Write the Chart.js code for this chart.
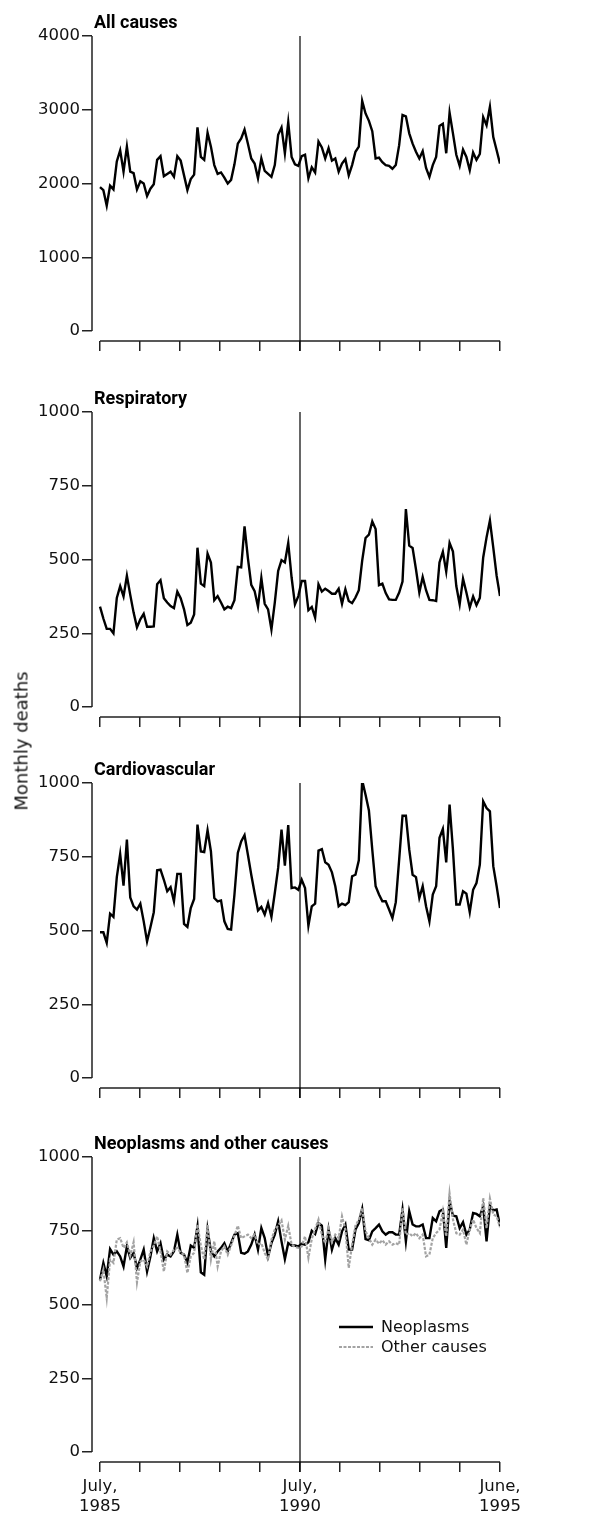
<!DOCTYPE html>
<html>
<head>
<meta charset="utf-8">
<script src="https://cdn.jsdelivr.net/npm/chart.js@4.4.1/dist/chart.umd.min.js"></script>
<style>
  body { margin: 0; background: #fff; }
  #wrap { position: relative; width: 611px; height: 1517px; overflow: hidden; }
  canvas { position: absolute; left: 0; }
  #ylab { position: absolute; left: 21px; top: 741px; transform: translate(-50%, -50%) rotate(-90deg);
          font: 18px "DejaVu Sans", sans-serif; white-space: nowrap; color: #111; }
</style>
</head>
<body>
<div id="wrap">
  <canvas id="c1" width="611" height="360" style="top:0px"></canvas>
  <canvas id="c2" width="611" height="360" style="top:376px"></canvas>
  <canvas id="c3" width="611" height="360" style="top:747px"></canvas>
  <canvas id="c4" width="611" height="396" style="top:1121px"></canvas>
  <div id="ylab">Monthly deaths</div>
</div>
<script>
// monthly deaths, July 1985 .. June 1995
const allCauses = [
  1950,1910,1700,1970,1920,2300,2450,2160,2500,2160,
  2140,1920,2030,2000,1830,1930,1990,2320,2370,2100,
  2130,2160,2090,2370,2310,2110,1910,2060,2120,2760,
  2360,2320,2690,2500,2250,2130,2150,2080,2000,2050,
  2260,2540,2610,2730,2540,2340,2270,2070,2340,2170,
  2130,2090,2250,2660,2760,2410,2830,2360,2260,2240,
  2370,2390,2070,2220,2150,2570,2490,2340,2480,2310,
  2340,2160,2270,2330,2110,2250,2430,2500,3120,2950,
  2850,2710,2340,2350,2290,2250,2240,2200,2250,2520,
  2930,2910,2680,2540,2430,2340,2440,2210,2090,2250,
  2360,2780,2810,2410,2960,2680,2390,2240,2460,2360,
  2180,2420,2320,2400,2900,2790,3040,2630,2450,2270];
const respiratory = [
  340,300,265,265,250,370,410,375,445,380,
  320,270,297,316,272,272,273,416,430,369,
  354,342,335,391,369,331,278,286,314,540,
  418,410,520,490,362,376,354,331,340,335,
  362,475,473,612,505,414,393,340,437,350,
  331,263,354,461,498,490,556,439,348,376,
  427,427,328,339,303,416,391,401,393,384,
  384,401,350,399,359,352,371,396,496,573,
  584,629,603,413,418,386,365,363,363,388,
  425,671,547,539,467,388,441,396,363,362,
  359,490,526,459,556,527,410,348,435,388,
  337,375,345,370,507,575,632,540,445,376];
const cardiovascular = [
  494,494,458,557,546,681,759,652,808,612,
  582,571,591,531,463,511,562,704,706,672,
  633,647,599,692,692,522,512,576,607,859,
  768,766,840,768,610,599,602,531,505,503,
  622,763,802,823,757,689,627,568,580,554,
  593,546,627,712,842,720,857,644,646,638,
  672,644,516,582,591,771,776,731,723,697,
  650,582,591,586,596,684,689,738,1009,960,
  907,774,650,622,599,599,571,542,596,740,
  889,889,774,689,681,610,650,582,531,622,
  650,814,844,731,927,774,588,588,633,625,
  562,638,661,723,938,915,904,718,650,576];
const neoplasms = [
  584,641,596,688,669,680,663,629,697,658,
  675,624,652,686,612,663,725,680,708,652,
  669,663,680,737,675,669,641,700,692,765,
  609,601,754,680,663,680,692,708,680,708,
  737,742,675,672,680,703,737,686,759,725,
  663,708,737,782,714,654,708,700,700,697,
  706,703,711,750,739,776,767,652,754,686,
  725,703,748,771,686,686,754,776,824,722,
  718,748,759,771,748,737,745,745,737,737,
  822,714,816,771,765,765,771,725,725,793,
  782,816,822,692,850,801,799,759,779,737,
  754,810,807,799,833,714,835,819,822,767];
const otherCauses = [
  579,618,522,652,641,720,725,692,711,666,
  711,575,646,652,629,680,700,731,680,612,
  680,669,686,692,675,669,607,663,675,771,
  700,652,771,652,714,629,680,697,669,700,
  733,767,725,731,737,725,737,703,708,675,
  652,720,754,767,785,720,767,703,695,692,
  697,731,658,722,756,788,737,708,759,711,
  737,725,799,754,624,703,767,788,827,748,
  725,703,720,706,718,703,714,703,708,703,
  827,737,742,731,742,725,737,663,669,725,
  742,754,816,731,876,788,742,737,754,703,
  754,788,759,742,861,759,859,805,799,762];

const months = allCauses.map((_, i) => i);   // 0 = July 1985
const xTickLabels = [['July,', '1985'], '', '', '', '', ['July,', '1990'], '', '', '', '', ['June,', '1995']];
const yTicksAll = [0, 1000, 2000, 3000, 4000];
const yTicksCause = [0, 250, 500, 750, 1000];

const FONT = '"DejaVu Sans", sans-serif';
const TITLE_FONT = 'bold 18px Roboto, "DejaVu Sans Condensed", sans-serif';
const LEFT = 92, TOP = 36, PLOT_H = 295, GAP = 10;
const LAST = months.length - 1;

// axis lines, 1990 marker, panel title and key
const decor = {
  id: 'decor',
  beforeDatasetsDraw(chart, args, o) {
    const { ctx, chartArea: a, scales: { x, y } } = chart;
    ctx.save();
    ctx.strokeStyle = '#222';
    ctx.lineWidth = 1.5;
    ctx.beginPath();
    ctx.moveTo(a.left, y.getPixelForValue(o.yMax));
    ctx.lineTo(a.left, y.getPixelForValue(0));
    ctx.moveTo(x.getPixelForValue(0), a.bottom);
    ctx.lineTo(x.getPixelForValue(LAST), a.bottom);
    ctx.stroke();
    const vx = x.getPixelForValue(LAST / 2);
    ctx.strokeStyle = '#000';
    ctx.lineWidth = 1.2;
    ctx.beginPath();
    ctx.moveTo(vx, a.top);
    ctx.lineTo(vx, a.bottom + GAP);
    ctx.stroke();
    ctx.restore();
  },
  afterDraw(chart, args, o) {
    const { ctx, chartArea: a } = chart;
    ctx.save();
    ctx.fillStyle = '#000';
    ctx.font = TITLE_FONT;
    ctx.textBaseline = 'alphabetic';
    ctx.fillText(o.title, a.left + 2, a.top - 8);
    if (o.key) {
      ctx.font = '16px ' + FONT;
      ctx.textBaseline = 'middle';
      chart.data.datasets.forEach((ds, i) => {
        const ly = o.key.y + i * 20;
        ctx.strokeStyle = ds.borderColor;
        ctx.lineWidth = ds.borderWidth;
        ctx.setLineDash(ds.borderDash || []);
        ctx.beginPath();
        ctx.moveTo(o.key.x, ly);
        ctx.lineTo(o.key.x + 34, ly);
        ctx.stroke();
        ctx.fillStyle = '#111';
        ctx.fillText(ds.label, o.key.x + 42, ly + 1);
      });
    }
    ctx.restore();
  }
};

function series(values) {
  return values.map((v, i) => ({ x: months[i], y: v }));
}

function panel(id, title, yMax, yTicks, datasets, showLabels, key) {
  const canvas = document.getElementById(id);
  const xH = canvas.height - TOP - PLOT_H - GAP;
  return new Chart(canvas, {
    type: 'line',
    data: { datasets },
    options: {
      responsive: false,
      animation: false,
      layout: { padding: { top: TOP, right: 111, left: 0, bottom: 0 } },
      elements: { point: { radius: 0 }, line: { tension: 0 } },
      plugins: {
        legend: { display: false },
        tooltip: { enabled: false },
        decor: { title, yMax, key }
      },
      scales: {
        x: {
          type: 'linear',
          min: -8 * LAST / 400,
          max: LAST,
          afterFit: s => { s.height = xH; },
          afterBuildTicks: s => { s.ticks = xTickLabels.map((_, k) => ({ value: k * LAST / 10 })); },
          grid: { drawOnChartArea: false, drawTicks: true, tickLength: 10, color: '#222', lineWidth: 1.5 },
          border: { display: false },
          ticks: {
            display: showLabels, autoSkip: false, maxRotation: 0, padding: 4,
            color: '#111', font: { family: FONT, size: 16.5, lineHeight: 1.25 },
            callback: (v, i) => xTickLabels[i]
          }
        },
        y: {
          min: -yMax * GAP / PLOT_H,
          max: yMax,
          afterFit: s => { s.width = LEFT; },
          afterBuildTicks: s => { s.ticks = yTicks.map(v => ({ value: v })); },
          grid: { drawOnChartArea: false, drawTicks: true, tickLength: 10, color: '#222', lineWidth: 1.5 },
          border: { display: false },
          ticks: { padding: 2, color: '#111', font: { family: FONT, size: 16.5 }, callback: v => String(v) }
        }
      }
    },
    plugins: [decor]
  });
}

const solid = values => ({ data: series(values), borderColor: '#000', borderWidth: 2.4, fill: false });

panel('c1', 'All causes', 4000, yTicksAll, [solid(allCauses)], false);
panel('c2', 'Respiratory', 1000, yTicksCause, [solid(respiratory)], false);
panel('c3', 'Cardiovascular', 1000, yTicksCause, [solid(cardiovascular)], false);
panel('c4', 'Neoplasms and other causes', 1000, yTicksCause, [
  { label: 'Neoplasms', ...solid(neoplasms), order: 1 },
  { label: 'Other causes', data: series(otherCauses), borderColor: '#a3a3a3', borderWidth: 2.2, borderDash: [3, 1.5], fill: false, order: 0 }
], true, { x: 339, y: 206 });
</script>
</body>
</html>
